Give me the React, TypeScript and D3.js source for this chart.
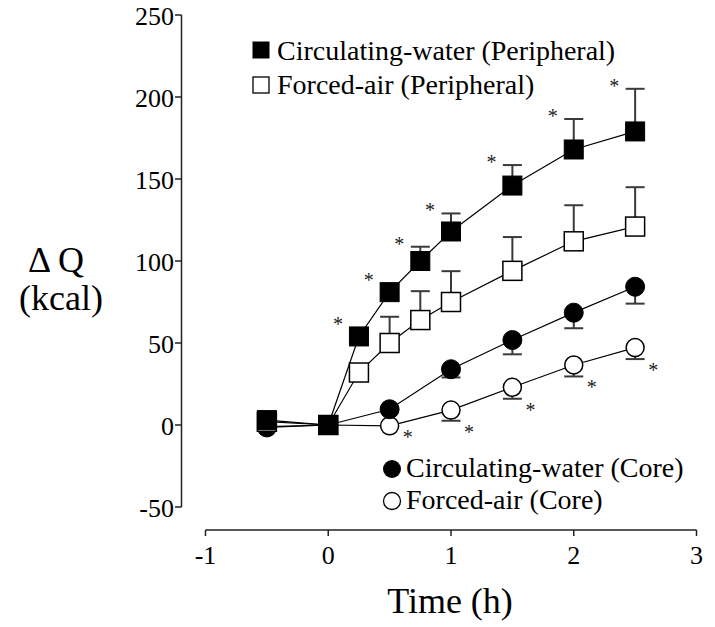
import React from "react";
import * as d3 from "d3";

const timesPeri = [-0.5, 0, 0.25, 0.5, 0.75, 1, 1.5, 2, 2.5];
const cwPeri = [3, 0, 54, 81, 100, 118, 146, 168, 179];
const cwPeriErr = [0, 0, 4, 5, 8.7, 11, 12.5, 18.6, 26];
const faPeri = [2, 0, 32, 50, 64, 75, 94, 112, 121];
const faPeriErr = [0, 0, 4, 16, 17.6, 18.8, 20.6, 22, 24];

const timesCore = [-0.5, 0, 0.5, 1, 1.5, 2, 2.5];
const cwCore = [-1.5, 0, 9.6, 34, 51.8, 68.5, 84.3];
const cwCoreErr = [0, 0, 0, 5, 8.7, 9.5, 10.3];
const faCore = [-1, 0, -0.5, 9.1, 23, 36.6, 47.2];
const faCoreErr = [0, 0, 0, 6.5, 7, 7, 7];

const cwPeriStars = [0.25, 0.5, 0.75, 1, 1.5, 2, 2.5];
const faCoreStars = [0.5, 1, 1.5, 2, 2.5];

const xTicks = [-1, 0, 1, 2, 3];
const yTicks = [-50, 0, 50, 100, 150, 200, 250];

const legendPeri = ["Circulating-water (Peripheral)", "Forced-air (Peripheral)"];
const legendCore = ["Circulating-water (Core)", "Forced-air (Core)"];

const FONT = "Liberation Serif, Tinos, Times New Roman, Times, DejaVu Serif, serif";

export default function App() {
  const x = d3.scaleLinear().domain([-1, 3]).range([205.5, 696.5]);
  const y = d3.scaleLinear().domain([-50, 250]).range([507, 15]);
  const line = d3
    .line<[number, number]>()
    .x((d) => x(d[0]))
    .y((d) => y(d[1]));

  const zip = (xs: number[], ys: number[]) => xs.map((t, i) => [t, ys[i]] as [number, number]);

  const sq = 19;
  const r = 9.5;
  const cap = 19;
  const errColor = "#3a3a3a";

  const errBars = (xs: number[], ys: number[], es: number[], dir: number, key: string) =>
    xs.map((t, i) => {
      if (!es[i]) return null;
      const x0 = x(t);
      const y0 = y(ys[i]);
      const y1 = y(ys[i] + dir * es[i]);
      return (
        <g key={key + i}>
          <line x1={x0} x2={x0} y1={y0} y2={y1} stroke={errColor} strokeWidth={2} />
          <line x1={x0 - cap / 2} x2={x0 + cap / 2} y1={y1} y2={y1} stroke={errColor} strokeWidth={2} />
        </g>
      );
    });

  const squares = (xs: number[], ys: number[], filled: boolean, key: string) =>
    xs.map((t, i) => (
      <rect
        key={key + i}
        x={x(t) - sq / 2}
        y={y(ys[i]) - sq / 2}
        width={sq}
        height={sq}
        fill={filled ? "#000" : "#fff"}
        stroke="#000"
        strokeWidth={filled ? 1 : 1.5}
      />
    ));

  const circles = (xs: number[], ys: number[], filled: boolean, key: string) =>
    xs.map((t, i) => (
      <circle
        key={key + i}
        cx={x(t)}
        cy={y(ys[i])}
        r={filled ? r : r - 0.5}
        fill={filled ? "#000" : "#fff"}
        stroke="#000"
        strokeWidth={filled ? 1 : 1.5}
      />
    ));

  const starSize = 20;
  const font = { fontFamily: FONT };

  return (
    <svg width={715} height={627} style={{ display: "block", position: "absolute", left: 0, top: 0 }}>
      <rect width={715} height={627} fill="#fff" />
      {/* axes */}
      <g stroke="#222" strokeWidth={1.5} fill="none">
        <line x1={181.5} x2={181.5} y1={y(250)} y2={y(-50)} />
        {yTicks.map((t) => (
          <line key={"yt" + t} x1={175} x2={181.5} y1={y(t)} y2={y(t)} />
        ))}
        <line x1={x(-1)} x2={x(3)} y1={530} y2={530} />
        {xTicks.map((t) => (
          <line key={"xt" + t} x1={x(t)} x2={x(t)} y1={530} y2={536} />
        ))}
      </g>
      <g style={font} fontSize={26} fill="#000">
        {yTicks.map((t) => (
          <text key={"yl" + t} x={174} y={y(t) + 9.5} textAnchor="end">
            {t}
          </text>
        ))}
        {xTicks.map((t) => (
          <text key={"xl" + t} x={x(t)} y={564} textAnchor="middle">
            {t}
          </text>
        ))}
      </g>
      <g style={font} fontSize={36} fill="#000" textAnchor="middle">
        <text x={56} y={272}>Δ Q</text>
        <text x={61} y={310}>(kcal)</text>
        <text x={450} y={613}>Time (h)</text>
      </g>

      {/* lines */}
      <g fill="none" stroke="#000" strokeWidth={1.2}>
        <path d={line(zip(timesCore, faCore)) || ""} />
        <path d={line(zip(timesCore, cwCore)) || ""} />
        <path d={line(zip(timesPeri, faPeri)) || ""} />
        <path d={line(zip(timesPeri, cwPeri)) || ""} />
      </g>

      {/* error bars */}
      {errBars(timesCore, faCore, faCoreErr, -1, "efc")}
      {errBars(timesCore, cwCore, cwCoreErr, -1, "ecc")}
      {errBars(timesPeri, faPeri, faPeriErr, 1, "efp")}
      {errBars(timesPeri, cwPeri, cwPeriErr, 1, "ecp")}

      {/* markers */}
      {circles(timesCore, faCore, false, "mfc")}
      {circles(timesCore, cwCore, true, "mcc")}
      {squares(timesPeri, faPeri, false, "mfp")}
      {squares(timesPeri, cwPeri, true, "mcp")}

      {/* significance stars */}
      <g style={font} fontSize={starSize} fill="#222" textAnchor="middle">
        {cwPeriStars.map((t) => {
          const i = timesPeri.indexOf(t);
          const top = Math.min(y(cwPeri[i] + cwPeriErr[i]), y(cwPeri[i]) - sq / 2);
          const cy = top - 7;
          return (
            <text key={"s1" + t} x={x(t) - 21} y={cy + 11}>
              *
            </text>
          );
        })}
        {faCoreStars.map((t) => {
          const i = timesCore.indexOf(t);
          const bottom = y(faCore[i] - faCoreErr[i]);
          const cy = bottom + 7;
          return (
            <text key={"s2" + t} x={x(t) + 18} y={cy + 11}>
              *
            </text>
          );
        })}
      </g>

      {/* legends */}
      <g style={font} fontSize={28} fill="#000">
        <rect x={261 - 8.5} y={50 - 8.5} width={17} height={17} fill="#000" />
        <text x={277} y={60}>{legendPeri[0]}</text>
        <rect x={261 - 8} y={85 - 8} width={16} height={16} fill="#fff" stroke="#000" strokeWidth={1.3} />
        <text x={277} y={94}>{legendPeri[1]}</text>

        <circle cx={392} cy={469} r={9} fill="#000" />
        <text x={406} y={477}>{legendCore[0]}</text>
        <circle cx={392} cy={501} r={8.5} fill="#fff" stroke="#000" strokeWidth={1.3} />
        <text x={406} y={508.5}>{legendCore[1]}</text>
      </g>
    </svg>
  );
}
